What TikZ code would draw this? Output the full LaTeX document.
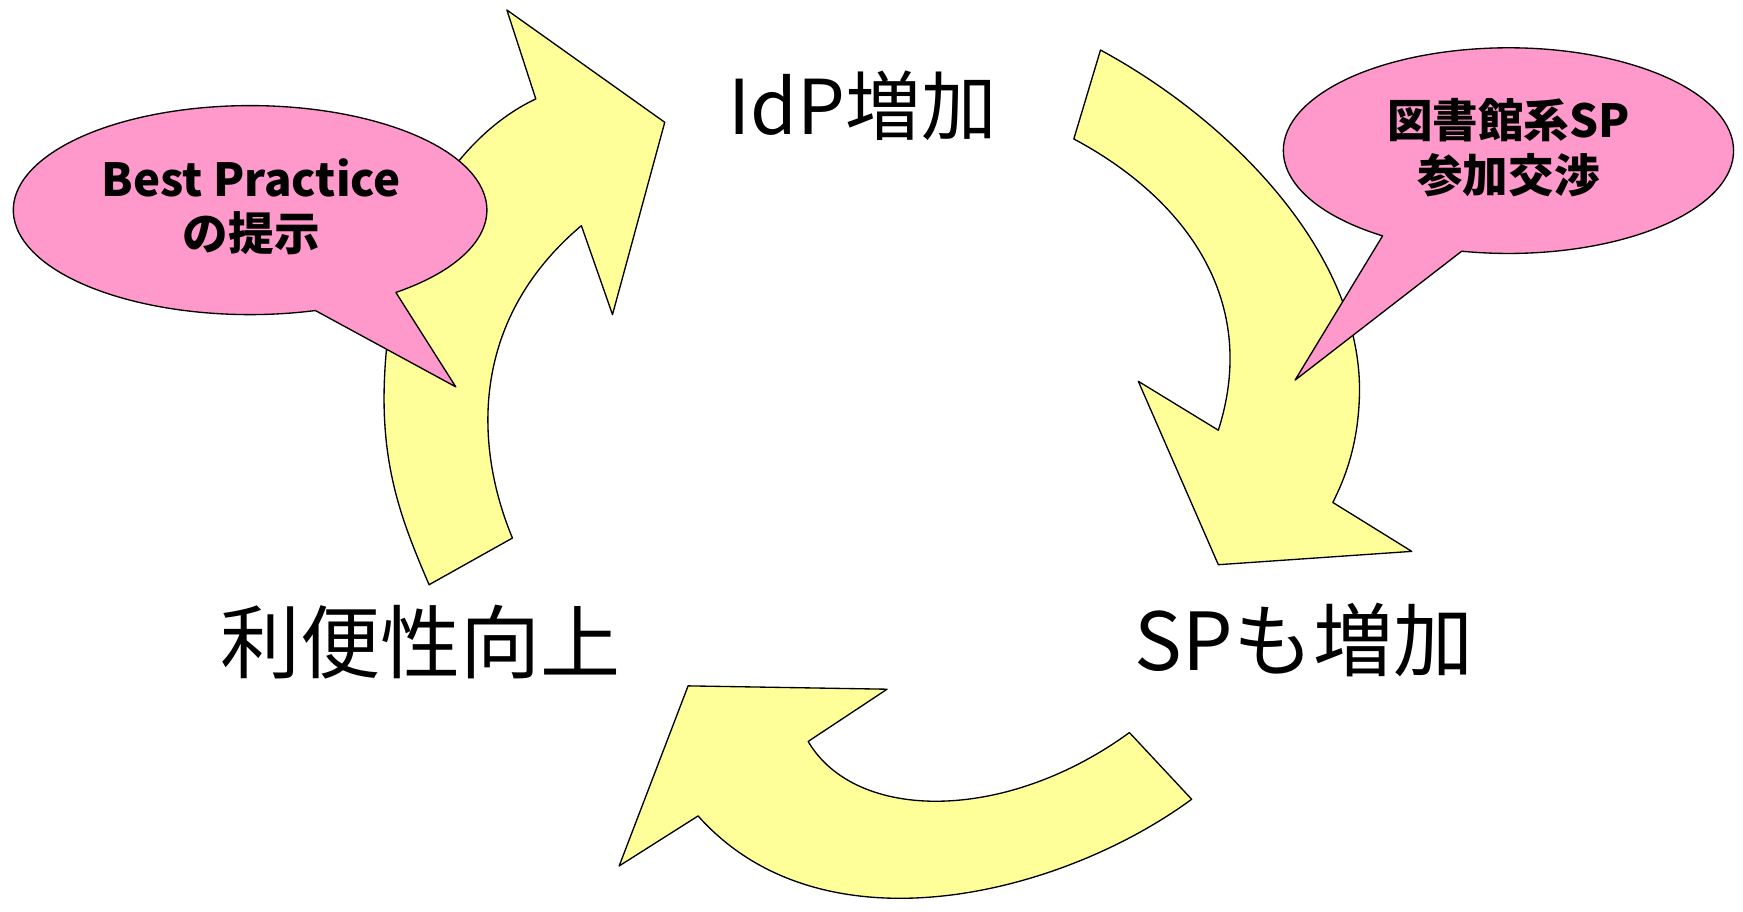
\documentclass[tikz,border=0pt]{standalone}
\usepackage{fontspec}
\newfontfamily\jp{Noto Sans CJK JP}
\definecolor{arrowyellow}{HTML}{FFFF99}
\definecolor{calloutpink}{HTML}{FF99CC}
\tikzset{
  arrowshape/.style={fill=arrowyellow, draw=black, line width=1.2pt, line join=round},
  calloutshape/.style={fill=calloutpink, draw=black, line width=1.2pt, line join=round},
  mainlabel/.style={font=\jp\fontsize{72}{80}\selectfont, inner sep=0pt},
  callouttext/.style={font=\jp\bfseries\fontsize{41}{49}\selectfont, align=center, inner sep=0pt},
}
\begin{document}
\begin{tikzpicture}[x=1pt,y=-1pt]
\useasboundingbox (0,0) rectangle (1568,820);

% left arrow (up, towards IdP)
\draw[arrowshape] (386,526) -- (461,484)
  .. controls (428,405) and (420,290) .. (523,203)
  -- (551,283) -- (598,110) -- (456,9) -- (482,89)
  .. controls (420,118) and (352,200) .. (346,338)
  .. controls (342,420) and (362,470) .. (386,526)
  -- cycle;

% right arrow (down, towards SP)
\draw[arrowshape] (966,125) -- (990,45)
  .. controls (1110,110) and (1225,230) .. (1223,354)
  .. controls (1222,400) and (1210,430) .. (1199,452)
  -- (1270,496) -- (1096,508) -- (1024,343) -- (1096,387)
  .. controls (1135,265) and (1060,175) .. (966,125)
  -- cycle;

% bottom arrow (left, towards convenience)
\draw[arrowshape] (1016,659) -- (1072,719)
  .. controls (955,805) and (740,860) .. (628,734)
  -- (557,779) -- (619,617) -- (798,620) -- (727,667)
  .. controls (770,740) and (905,740) .. (1016,659)
  -- cycle;

% left callout
\draw[calloutshape] ([shift={(74:213 and 94)}]225,189)
  arc[start angle=74, end angle=412, x radius=213, y radius=94]
  -- (410,348) -- cycle;
\node[callouttext] (bp) at (226,186) {Best Practice\\の提示};

% right callout
\draw[calloutshape] ([shift={(124:202.5 and 92.5)}]1357,135.5)
  arc[start angle=124, end angle=462, x radius=202.5, y radius=92.5]
  -- (1165,342) -- cycle;
\node[callouttext] (lib) at (1357,133) {図書館系SP\\参加交渉};

% main labels
\node[mainlabel, font=\jp\fontsize{68}{76}\selectfont] (idp) at (776,95) {IdP増加};
\node[mainlabel] (sp) at (1173,576) {SPも増加};
\node[mainlabel] (conv) at (378,578) {利便性向上};
\end{tikzpicture}
\end{document}
